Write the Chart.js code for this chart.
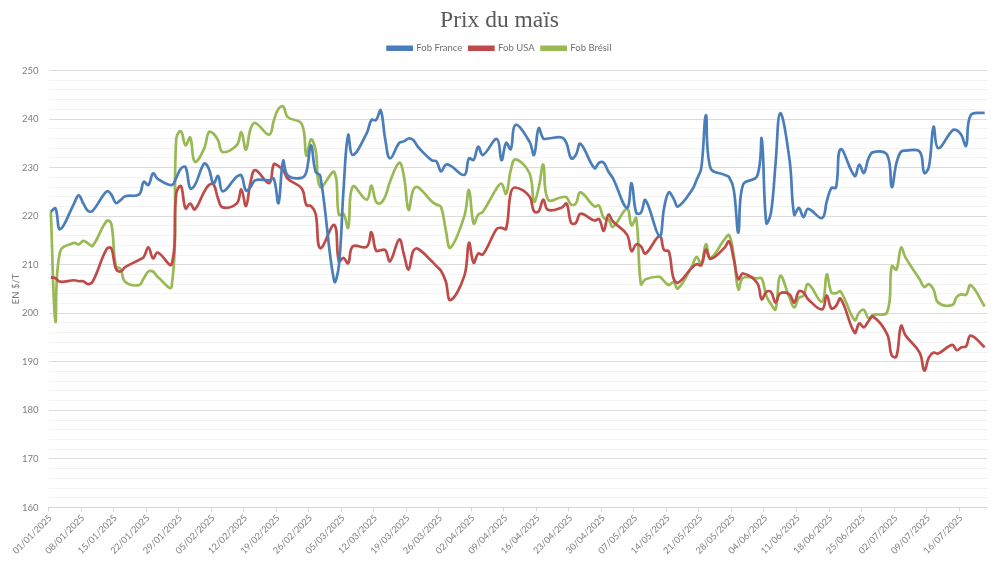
<!DOCTYPE html>
<html lang="fr">
<head>
<meta charset="utf-8">
<title>Prix du maïs</title>
<script src="https://cdn.jsdelivr.net/npm/chart.js@4"></script>
<style>
  html, body { margin: 0; padding: 0; background: #fff; }
  canvas { display: block; }
</style>
</head>
<body>
<canvas id="chart" width="1000" height="562"></canvas>
<script>
const tickLabels = ['01/01/2025','08/01/2025','15/01/2025','22/01/2025','29/01/2025','05/02/2025','12/02/2025','19/02/2025','26/02/2025','05/03/2025','12/03/2025','19/03/2025','26/03/2025','02/04/2025','09/04/2025','16/04/2025','23/04/2025','30/04/2025','07/05/2025','14/05/2025','21/05/2025','28/05/2025','04/06/2025','11/06/2025','18/06/2025','25/06/2025','02/07/2025','09/07/2025','16/07/2025'];

// days since 01/01/2025
const dayOffsets = [0,1,2, 5,6,7,8,9, 12,13,14,15,16, 19,20,21,22,23, 26,27,28,29,30,31, 33,34,35,36,37, 40,41,42,43,44, 47,48,49,50,51, 54,55,56,57,58, 61,62,63,64,65, 68,69,70,71,72,73, 75,76,77,78,79, 82,83,84,85,86, 89,90,91,92,93, 96,97,98,99,100, 103,104,105,106,107, 110,111,112,113,114, 117,118,119,120,121, 124,125,126,127,128, 131,132,133,134,135, 138,139,140,141,142, 145,146,147,148,149, 152,153,154,155,156,157, 159,160,161,162,163, 166,167,168,169,170, 173,174,175,176,177, 180,181,182,183,184, 187,188,189,190,191, 194,195,196,197,198, 201];

const fobFrance = [220.9,221.6,217.3, 222.6,224.3,222.6,221.1,221.1, 225.1,224.5,222.7,223.3,224.1, 224.5,227.1,226.4,228.8,227.7, 226.4,227.9,229.8,230.1,225.7,226.4, 230.8,229.8,226.7,228.3,225.1, 228.1,228.4,225.3,226,227.4, 227.4,227.7,222.7,231.4,228.4, 227.9,229.1,234.6,229.1,228.3, 206.6,209.8,225.4,236.7,232.6, 237.1,239.8,239.8,241.8,235.7,231.9, 235.1,235.4,236,235.7,234.3, 231.5,231.3,229.2,230.6,230.4, 228.5,231.9,231.6,234.3,232.6, 235.9,231.5,235.1,233.8,238.8, 235.4,232.6,238.1,236,236, 236.2,235,231.9,232.6,234.9, 229.9,231,231,229.2,227.8, 221.7,226.8,220.7,220.7,223.3, 215.9,221.7,224.9,223.7,222, 225.4,227.5,229.9,240.8,229.9, 228.5,228,225.4,216.6,226.5, 228.2,236,218.6,220.7,231,241.2, 231.6,220.3,221.7,219.8,221.5, 219.6,223,225.8,225.9,233.8, 228.3,230.6,228.9,231.9,233.2, 232.6,226,230.9,233.3,233.5, 233.3,228.9,230.2,238.4,234, 237.6,237.7,236.7,234.5,240.8, 241.3];

const fobUsa = [207.4,207.2,206.5, 206.8,206.6,206.6,206,206.5, 213.2,213.4,209.2,208.6,209.5, 211,211.6,213.6,211.3,212.5, 210.1,224.7,226.2,221.6,222.6,221.4, 225,226.4,226.6,223.6,221.8, 222.6,225.5,222.1,227,229.5, 226.8,230.7,230.3,229.5,227.7, 225.7,222.3,222.1,220.5,213.4, 218.2,210.7,211.4,210.3,213.8, 213.7,216.7,212.9,213,213,210.7, 215.2,212.1,209,212.8,213.3, 210.7,209.7,208.7,206.6,202.7, 207.7,214.5,210.4,212.3,212.1, 217.4,217.6,217.4,224.8,225.9, 224.1,221,221,223.4,221.3, 221.8,222.6,218.6,218.6,220.5, 219.1,219.4,217,220.3,218.9, 216.2,212.8,214.2,213.8,212.3, 215.9,213,212.8,207.3,206.3, 209.4,210.1,209.9,213.1,211.2, 213.5,214.8,211.1,207,208.2, 206.3,202.9,204.4,204.4,202.2,204.1, 203.9,202.2,204.5,204.3,202.9, 200.8,203.7,201,201.5,203, 196,197.9,197.1,198.4,199.3, 195.7,191.3,191.1,197.4,195.4, 191.9,188.2,190.9,191.9,191.7, 193.5,192.4,193,193.2,195.4, 193];

const fobBresil = [220.9,198.3,212.7, 214.5,214.2,214.9,214.4,213.9, 219,218.5,209.7,209.2,206.5, 205.8,207.2,208.6,208.6,207.5, 205.5,236,237.5,234.6,236.2,231.2, 233.9,237.3,237,235.6,233.2, 234.6,237.3,233.7,238,239.2, 236.8,239.7,242.1,242.6,240.4, 239,232.5,235.8,233.6,226, 229.1,220.3,220.5,217.6,226.1, 223.4,226.3,223,222.7,224.1,227.1, 231,228.2,221.3,225.4,226, 223,222.4,221.9,217.2,213.5, 220,225.4,218.5,220.3,220.9, 225.8,226.7,224.6,229.5,231.7, 228.9,223,225.8,230.6,223.4, 223.9,223.9,222.4,222.6,224.9, 222,222.2,219.6,219.3,217.8, 221.5,218.1,219.6,206,207, 207.5,206.6,205.8,206.4,205.1, 209.7,211.6,210.1,214.2,211.4, 215.2,216.1,211.8,204.9,207.3, 207.2,207.2,203.6,201.9,200.8,207.7, 203.2,201.2,203.2,203.6,206, 202.4,208,204.3,204.1,204.5, 198.6,200.2,200.7,199,199.7, 200.2,209.7,209,213.5,211.4, 207,205.4,206,204.9,202.2, 201.7,203.4,203.9,203.8,205.8, 201.4];

const toPoints = values => values.map((y, i) => ({ x: dayOffsets[i], y }));
const line = (label, values, color) => ({
  label, data: toPoints(values), borderColor: color, backgroundColor: color,
  borderWidth: 2.7, tension: 0.4, pointRadius: 0, fill: false
});

const TEXT = '#7f7f7f';
const SANS = 'Lato, sans-serif';

// extra room between the legend and the plot
const legendGap = {
  id: 'legendGap',
  beforeInit(chart) {
    const fit = chart.legend.fit;
    chart.legend.fit = function () { fit.call(this); this.height += 7.5; };
  }
};

new Chart(document.getElementById('chart'), {
  type: 'line',
  plugins: [legendGap],
  data: {
    datasets: [
      line('Fob France', fobFrance, '#4a7ebb'),
      line('Fob USA', fobUsa, '#be4b48'),
      line('Fob Brésil', fobBresil, '#98b954')
    ]
  },
  options: {
    responsive: false,
    animation: false,
    layout: { padding: { left: 12, right: 13, top: 9, bottom: 0 } },
    plugins: {
      tooltip: { enabled: false },
      title: {
        display: true, text: 'Prix du maïs', color: '#595959',
        font: { family: '"Liberation Serif", serif', size: 23.5, weight: 'normal', lineHeight: 1 },
        padding: { top: 0, bottom: 4 }
      },
      legend: {
        position: 'top',
        labels: {
          color: '#6f6f6f', boxWidth: 24, boxHeight: 3, padding: 7,
          font: { family: SANS, size: 9.5 }
        }
      }
    },
    scales: {
      x: {
        type: 'linear', min: -0.5, max: 201.5,
        afterBuildTicks: scale => { scale.ticks = tickLabels.map((_, i) => ({ value: -0.5 + 7 * i })); },
        afterFit: scale => { scale.height = 54.5; },
        grid: { drawOnChartArea: false, drawTicks: true, tickLength: 4, color: '#d9d9d9' },
        border: { color: '#d9d9d9' },
        ticks: {
          autoSkip: false, minRotation: 45, maxRotation: 45, color: TEXT, padding: 1, labelOffset: 2,
          font: { family: SANS, size: 9.2 },
          callback: (value, index) => tickLabels[index]
        }
      },
      y: {
        min: 160, max: 250,
        afterFit: scale => { scale.width = 36.5; },
        title: {
          display: true, text: 'EN $/T', color: TEXT, padding: { top: -2, bottom: 6 },
          font: { family: SANS, size: 9.5 }
        },
        border: { display: false },
        grid: {
          drawTicks: false,
          color: ctx => ctx.tick && ctx.tick.value % 10 === 0 ? '#dcdcdc' : '#f3f3f3'
        },
        ticks: {
          stepSize: 2, autoSkip: false, color: TEXT, padding: 10,
          font: { family: SANS, size: 9.5 },
          callback: value => value % 10 === 0 ? value : ''
        }
      }
    }
  }
});
</script>
</body>
</html>
